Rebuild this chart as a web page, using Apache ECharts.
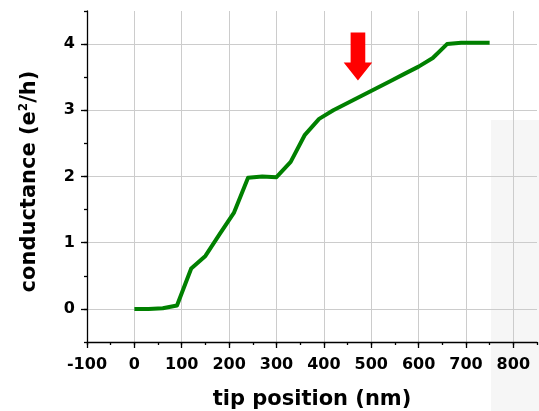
<!DOCTYPE html>
<html>
<head>
<meta charset="utf-8">
<script src="https://cdn.jsdelivr.net/npm/echarts@6/dist/echarts.min.js"></script>
<style>
  html, body { margin: 0; padding: 0; background: #ffffff; }
  #chart { width: 539px; height: 411px; }
</style>
</head>
<body>
<div id="chart"></div>
<script>
// Tip position (nm), sampled every 30 nm
var tipPosition = [0, 30, 60, 90, 120, 150, 180, 210, 240, 270, 300, 330, 360,
                   390, 420, 450, 480, 510, 540, 570, 600, 630, 660, 690, 720, 750];
// Conductance in units of e^2/h
var conductance = [0.00, 0.00, 0.01, 0.05, 0.61, 0.80, 1.13, 1.45, 1.98, 2.00, 1.99, 2.22, 2.63,
                   2.87, 3.00, 3.11, 3.22, 3.33, 3.44, 3.55, 3.66, 3.79, 4.00, 4.02, 4.02, 4.02];
// Major tick values
var xTicks = [-100, 0, 100, 200, 300, 400, 500, 600, 700, 800];
var yTicks = [0, 1, 2, 3, 4];
// Where the red arrow points (tip of the arrow)
var arrowAt = [472, 3.45];

var FONT = '"DejaVu Sans", "Liberation Sans", Arial, sans-serif';

var chart = echarts.init(document.getElementById('chart'));

var axisLineStyle = { color: '#000000', width: 1.3 };
var gridLineStyle = { color: '#cccccc', width: 1 };

chart.setOption({
  animation: false,
  backgroundColor: '#ffffff',
  graphic: [{
    type: 'rect',
    z: -10,
    shape: { x: 491, y: 120, width: 48, height: 291 },
    style: { fill: '#f6f6f6' },
    silent: true
  }],
  grid: { left: 87, right: 2, top: 11, bottom: 69, containLabel: false, outerBoundsMode: 'none' },
  xAxis: [{
    type: 'value',
    min: -100, max: 850,
    position: 'bottom',
    name: 'tip position (nm)',
    nameLocation: 'middle',
    nameGap: 47,
    nameTextStyle: { fontFamily: FONT, fontWeight: 'bold', fontSize: 21, color: '#000' },
    axisLine: { show: true, onZero: false, lineStyle: axisLineStyle },
    axisTick: { show: true, inside: false, length: 6, customValues: xTicks, lineStyle: axisLineStyle },
    axisLabel: { show: true, customValues: xTicks, margin: 15,
                 fontFamily: FONT, fontWeight: 'bold', fontSize: 16, color: '#000' },
    splitLine: { show: true, lineStyle: gridLineStyle }
  }, {
    // half-step minor ticks
    type: 'value',
    min: -100, max: 850, interval: 50,
    position: 'bottom',
    offset: 0,
    axisLine: { show: false, onZero: false },
    axisTick: { show: true, inside: false, length: 3, lineStyle: axisLineStyle },
    axisLabel: { show: false },
    splitLine: { show: false }
  }],
  yAxis: [{
    type: 'value',
    min: -0.5, max: 4.5,
    position: 'left',
    name: 'conductance (e{sup|2}/h)',
    nameLocation: 'middle',
    nameRotate: 90,
    nameGap: 45,
    nameTextStyle: { fontFamily: FONT, fontWeight: 'bold', fontSize: 21, color: '#000',
      padding: [0, 10, 0, 0],
      rich: { sup: { fontFamily: FONT, fontWeight: 'bold', fontSize: 12, color: '#000',
                     verticalAlign: 'top', padding: [0, 0, 12, 0] } } },
    axisLine: { show: true, onZero: false, lineStyle: axisLineStyle },
    axisTick: { show: true, inside: false, length: 6, customValues: yTicks, lineStyle: axisLineStyle },
    axisLabel: { show: true, customValues: yTicks, margin: 12,
                 fontFamily: FONT, fontWeight: 'bold', fontSize: 16, color: '#000' },
    splitLine: { show: true, lineStyle: gridLineStyle }
  }, {
    type: 'value',
    min: -0.5, max: 4.5, interval: 0.5,
    position: 'left',
    offset: 0,
    axisLine: { show: false, onZero: false },
    axisTick: { show: true, inside: false, length: 3, lineStyle: axisLineStyle },
    axisLabel: { show: false },
    splitLine: { show: false }
  }],
  series: [{
    type: 'line',
    xAxisIndex: 0,
    yAxisIndex: 0,
    data: tipPosition.map(function (x, i) { return [x, conductance[i]]; }),
    showSymbol: false,
    symbol: 'none',
    lineStyle: { color: '#008000', width: 4, join: 'round', cap: 'butt' },
    markPoint: {
      silent: true,
      symbol: 'path://M9,0 L28,0 L28,30 L37,30 L18.5,48 L0,30 L9,30 Z',
      symbolSize: [37, 48],
      symbolKeepAspect: true,
      symbolOffset: [0, '-50%'],
      itemStyle: { color: '#ff0000' },
      label: { show: false },
      data: [{ coord: arrowAt }]
    }
  }]
});
</script>
</body>
</html>
